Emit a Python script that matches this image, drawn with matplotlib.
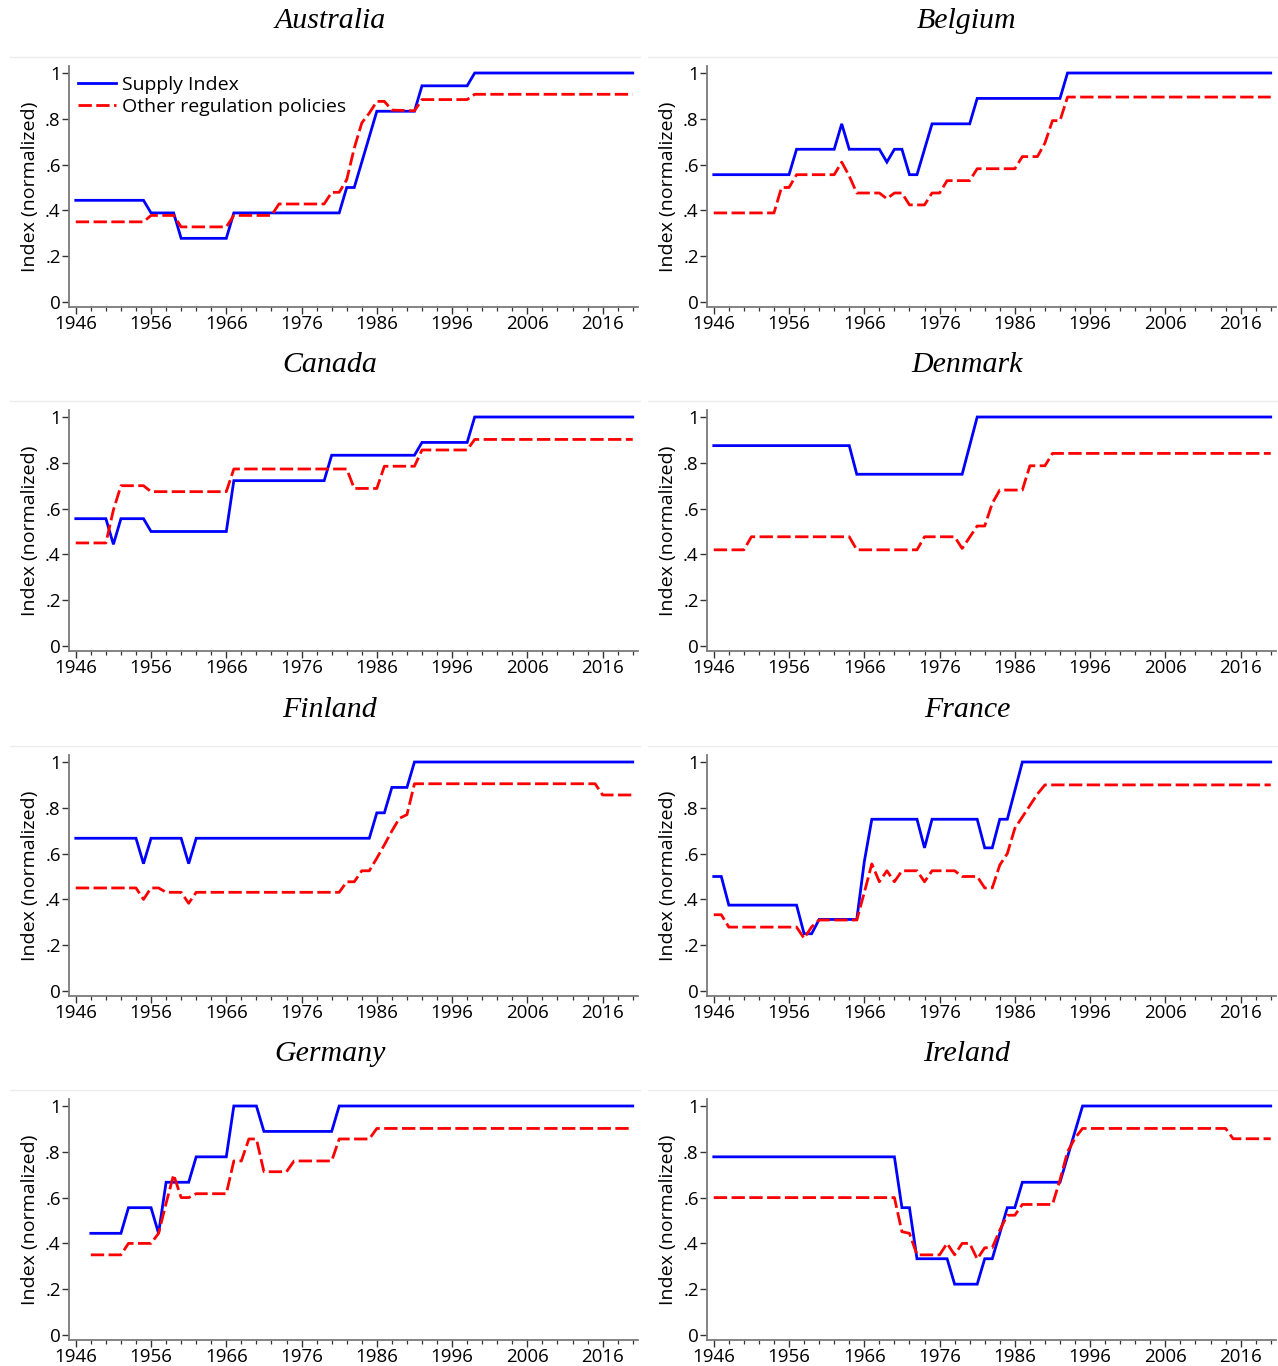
import matplotlib
matplotlib.use("Agg")
import matplotlib.pyplot as plt
from matplotlib.lines import Line2D
from matplotlib.ticker import MultipleLocator, FixedLocator

plt.rcParams['font.family'] = ['Open Sans', 'DejaVu Sans']

countries = ["Australia", "Belgium", "Canada", "Denmark",
             "Finland", "France", "Germany", "Ireland"]
series_labels = ["Supply Index", "Other regulation policies"]
x_ticks = [1946, 1956, 1966, 1976, 1986, 1996, 2006, 2016]
y_ticks = [0, 0.2, 0.4, 0.6, 0.8, 1.0]
y_ticklabels = ["0", ".2", ".4", ".6", ".8", "1"]

# ---- Australia
aus_sup_years = [1946, 1955, 1956, 1959, 1960, 1966, 1967, 1981, 1982, 1983, 1984, 1985, 1986, 1991, 1992, 1998, 1999, 2020]
aus_sup = [.444, .444, .389, .389, .278, .278, .389, .389, .5, .5, .611, .722, .833, .833, .944, .944, 1, 1]
aus_oth_years = [1946, 1955, 1956, 1959, 1960, 1966, 1967, 1972, 1973, 1979, 1980, 1981, 1982, 1983, 1984, 1985, 1986, 1987, 1988, 1991, 1992, 1998, 1999, 2020]
aus_oth = [.35, .35, .378, .378, .328, .328, .378, .378, .428, .428, .479, .479, .534, .672, .782, .825, .876, .876, .838, .835, .884, .884, .907, .907]

# ---- Belgium
bel_sup_years = [1946, 1956, 1957, 1962, 1963, 1964, 1968, 1969, 1970, 1971, 1972, 1973, 1974, 1975, 1980, 1981, 1992, 1993, 2020]
bel_sup = [.556, .556, .667, .667, .778, .667, .667, .611, .667, .667, .556, .556, .667, .778, .778, .889, .889, 1, 1]
bel_oth_years = [1946, 1954, 1955, 1956, 1957, 1962, 1963, 1964, 1965, 1968, 1969, 1970, 1971, 1972, 1974, 1975, 1976, 1977, 1980, 1981, 1986, 1987, 1989, 1990, 1991, 1992, 1993, 2020]
bel_oth = [.389, .389, .5, .5, .556, .556, .611, .55, .476, .476, .451, .476, .476, .424, .424, .476, .476, .53, .53, .582, .582, .635, .635, .694, .792, .792, .895, .895]

# ---- Canada
can_sup_years = [1946, 1950, 1951, 1952, 1955, 1956, 1966, 1967, 1979, 1980, 1991, 1992, 1998, 1999, 2020]
can_sup = [.556, .556, .444, .556, .556, .5, .5, .722, .722, .833, .833, .889, .889, 1, 1]
can_oth_years = [1946, 1950, 1951, 1952, 1955, 1956, 1966, 1967, 1982, 1983, 1986, 1987, 1991, 1992, 1998, 1999, 2020]
can_oth = [.45, .45, .594, .7, .7, .674, .674, .773, .773, .688, .688, .785, .785, .856, .856, .902, .902]

# ---- Denmark
den_sup_years = [1946, 1964, 1965, 1979, 1980, 1981, 2020]
den_sup = [.875, .875, .75, .75, .875, 1, 1]
den_oth_years = [1946, 1950, 1951, 1964, 1965, 1973, 1974, 1978, 1979, 1980, 1981, 1982, 1983, 1984, 1987, 1988, 1990, 1991, 2020]
den_oth = [.42, .42, .477, .477, .42, .42, .477, .477, .426, .475, .524, .524, .623, .681, .681, .787, .787, .841, .841]

# ---- Finland
fin_sup_years = [1946, 1954, 1955, 1956, 1960, 1961, 1962, 1985, 1986, 1987, 1988, 1990, 1991, 2020]
fin_sup = [.667, .667, .556, .667, .667, .556, .667, .667, .778, .778, .889, .889, 1, 1]
fin_oth_years = [1946, 1954, 1955, 1956, 1957, 1958, 1960, 1961, 1962, 1981, 1982, 1983, 1984, 1985, 1986, 1987, 1988, 1989, 1990, 1991, 2015, 2016, 2020]
fin_oth = [.45, .45, .4, .45, .45, .431, .431, .383, .431, .431, .477, .477, .525, .525, .58, .638, .699, .754, .77, .905, .905, .856, .856]

# ---- France
fra_sup_years = [1946, 1947, 1948, 1957, 1958, 1959, 1960, 1965, 1966, 1967, 1973, 1974, 1975, 1981, 1982, 1983, 1984, 1985, 1986, 1987, 2020]
fra_sup = [.5, .5, .375, .375, .25, .25, .3125, .3125, .565, .75, .75, .625, .75, .75, .625, .625, .75, .75, .875, 1, 1]
fra_oth_years = [1946, 1947, 1948, 1957, 1958, 1959, 1960, 1965, 1966, 1967, 1968, 1969, 1970, 1971, 1973, 1974, 1975, 1978, 1979, 1981, 1982, 1983, 1984, 1985, 1986, 1987, 1988, 1989, 1990, 2020]
fra_oth = [.333, .333, .279, .279, .23, .28, .31, .31, .43, .555, .477, .525, .477, .525, .525, .477, .525, .525, .5, .5, .45, .45, .55, .6, .71, .76, .81, .86, .9, .9]

# ---- Germany
ger_sup_years = [1948, 1952, 1953, 1956, 1957, 1958, 1961, 1962, 1966, 1967, 1970, 1971, 1980, 1981, 2020]
ger_sup = [.444, .444, .556, .556, .444, .667, .667, .778, .778, 1, 1, .889, .889, 1, 1]
ger_oth_years = [1948, 1952, 1953, 1956, 1957, 1958, 1959, 1960, 1961, 1962, 1966, 1967, 1968, 1969, 1970, 1971, 1974, 1975, 1980, 1981, 1985, 1986, 2020]
ger_oth = [.35, .35, .4, .4, .444, .575, .7, .6, .6, .617, .617, .76, .76, .856, .856, .713, .713, .76, .76, .856, .856, .902, .902]

# ---- Ireland
irl_sup_years = [1946, 1970, 1971, 1972, 1973, 1977, 1978, 1981, 1982, 1983, 1984, 1985, 1986, 1987, 1992, 1993, 1994, 1995, 2020]
irl_sup = [.778, .778, .556, .556, .333, .333, .222, .222, .333, .333, .444, .556, .556, .667, .667, .778, .889, 1, 1]
irl_oth_years = [1946, 1970, 1971, 1972, 1973, 1976, 1977, 1978, 1979, 1980, 1981, 1982, 1983, 1984, 1985, 1986, 1987, 1991, 1992, 1993, 1994, 1995, 2014, 2015, 2020]
irl_oth = [.6, .6, .451, .444, .35, .35, .4, .35, .4, .4, .332, .381, .381, .458, .523, .523, .57, .57, .677, .8, .86, .902, .902, .857, .857]

panels = [
    (aus_sup_years, aus_sup, aus_oth_years, aus_oth),
    (bel_sup_years, bel_sup, bel_oth_years, bel_oth),
    (can_sup_years, can_sup, can_oth_years, can_oth),
    (den_sup_years, den_sup, den_oth_years, den_oth),
    (fin_sup_years, fin_sup, fin_oth_years, fin_oth),
    (fra_sup_years, fra_sup, fra_oth_years, fra_oth),
    (ger_sup_years, ger_sup, ger_oth_years, ger_oth),
    (irl_sup_years, irl_sup, irl_oth_years, irl_oth),
]

W, H = 1278, 1366
fig = plt.figure(figsize=(W / 100, H / 100), dpi=100)
fig.patch.set_facecolor("white")

zero_px = [302, 646, 991, 1335]
unit_px = 229
left_px = [69, 707]
width_px = 569
ylo, yhi = -0.022, 1.03
title_y = [21, 365, 710, 1054]
title_x = [330, 967]
spine_col = "#7a7a7a"
fs = 13.5

for i, (country, (sy, sv, oy, ov)) in enumerate(zip(countries, panels)):
    r, c = divmod(i, 2)
    top = zero_px[r] - yhi * unit_px
    bot = zero_px[r] - ylo * unit_px
    ax = fig.add_axes([left_px[c] / W, 1 - bot / H, width_px / W, (bot - top) / H])
    ax.plot(sy, sv, color="#0000ff", lw=2.0, solid_joinstyle="miter", label=series_labels[0])
    ax.plot(oy, ov, color="#ff0000", lw=2.0, dashes=(4.8, 1.6), label=series_labels[1])
    ax.set_xlim(1945.1, 2020.7)
    ax.set_ylim(ylo, yhi)
    for s in ["top", "right"]:
        ax.spines[s].set_visible(False)
    for s in ["left", "bottom"]:
        ax.spines[s].set_color(spine_col)
        ax.spines[s].set_linewidth(1.3)
    ax.xaxis.set_major_locator(FixedLocator(x_ticks))
    ax.xaxis.set_minor_locator(MultipleLocator(2))
    ax.set_yticks(y_ticks)
    ax.set_yticklabels(y_ticklabels)
    ax.tick_params(axis="both", which="major", labelsize=fs, length=5, width=1.0,
                   color="#333333", pad=1)
    ax.tick_params(axis="x", which="minor", length=3, width=0.9, color="#333333")
    ax.set_ylabel("Index (normalized)", fontsize=14)
    ax.yaxis.set_label_coords(-0.052, 0.5)
    fig.text(title_x[c] / W, 1 - title_y[r] / H, country, ha="center", va="center",
             fontsize=21.5, style="italic", family=["Liberation Serif", "DejaVu Serif"])
    line_y = 1 - (57 + 344.3 * r) / H
    x0 = (10 if c == 0 else 648) / W
    x1 = (640 if c == 0 else 1278) / W
    fig.add_artist(Line2D([x0, x1], [line_y, line_y], color="#ececec", lw=1.0))
    if i == 0:
        ax.legend(loc="upper left", bbox_to_anchor=(0.016, 0.96), frameon=False,
                  fontsize=14, handlelength=1.95, handletextpad=0.3,
                  labelspacing=0.2, borderpad=0, borderaxespad=0)

fig.savefig("out.png", dpi=100, facecolor="white")
